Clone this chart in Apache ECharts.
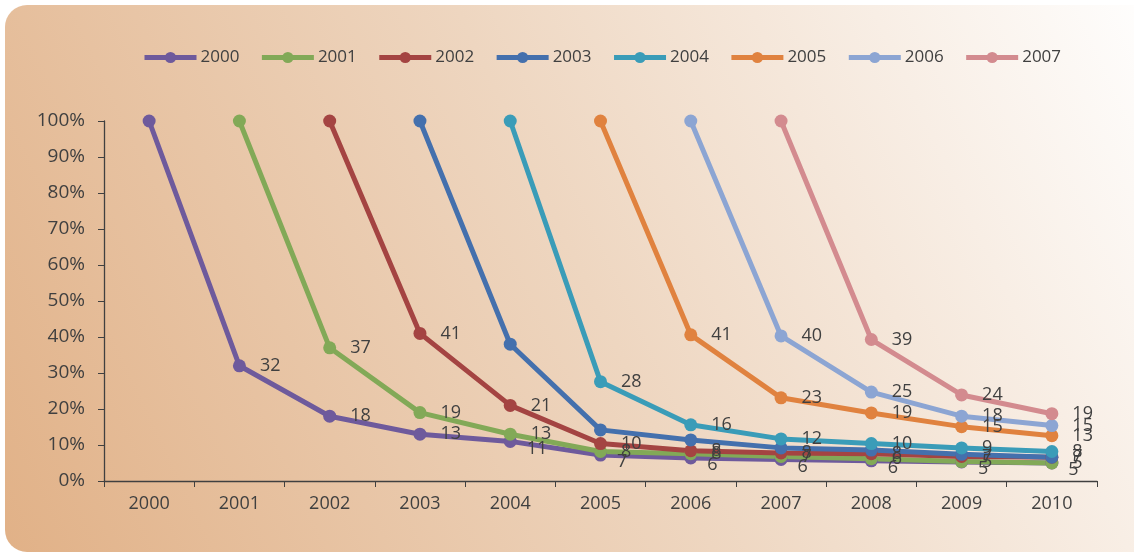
<!DOCTYPE html>
<html>
<head>
<meta charset="utf-8">
<script src="https://cdn.jsdelivr.net/npm/echarts@6/dist/echarts.min.js"></script>
<style>
  html, body { margin: 0; padding: 0; background: #ffffff; }
  #chart { width: 1134px; height: 557px; }
</style>
</head>
<body>
<div id="chart"></div>
<script>
// Calendar years on the horizontal axis
const years = ['2000', '2001', '2002', '2003', '2004', '2005', '2006', '2007', '2008', '2009', '2010'];
// One line per starting cohort
const cohorts = ['2000', '2001', '2002', '2003', '2004', '2005', '2006', '2007'];

// Share (%) of each cohort still present in each year
const c2000 = [100, 32, 18, 13, 11, 7.2, 6.4, 6.0, 5.6, 5.3, 5.0];
const c2001 = [null, 100, 37, 19, 13, 8.2, 7.6, 6.8, 6.2, 5.4, 5.0];
const c2002 = [null, null, 100, 41, 21, 10.4, 8.4, 7.8, 7.6, 6.8, 6.6];
const c2003 = [null, null, null, 100, 38, 14.2, 11.4, 9.2, 8.6, 7.4, 6.6];
const c2004 = [null, null, null, null, 100, 27.6, 15.6, 11.7, 10.4, 9.2, 8.2];
const c2005 = [null, null, null, null, null, 100, 40.6, 23.1, 18.9, 15.1, 12.6];
const c2006 = [null, null, null, null, null, null, 100, 40.3, 24.7, 18.0, 15.4];
const c2007 = [null, null, null, null, null, null, null, 100, 39.3, 23.9, 18.7];

// Y axis ticks
const yTicks = [0, 10, 20, 30, 40, 50, 60, 70, 80, 90, 100];

const cohortValues = [c2000, c2001, c2002, c2003, c2004, c2005, c2006, c2007];
const colors = ['#6e5a9c', '#82a957', '#a44442', '#4470ad', '#3a9cb8', '#e0823f', '#8ca5d3', '#d38b8f'];
// The 2003 cohort carries no value labels
const showLabels = [true, true, true, false, true, true, true, true];

const textColor = '#404040';
const fontFamily = '"Open Sans", "Noto Sans", sans-serif';

const series = cohorts.map((name, i) => {
  const vals = cohortValues[i];
  const start = vals.findIndex(v => v !== null);
  return {
    name: name,
    type: 'line',
    symbol: 'circle',
    symbolSize: 13,
    connectNulls: false,
    lineStyle: { width: 5, color: colors[i] },
    itemStyle: { color: colors[i] },
    label: {
      show: showLabels[i],
      position: 'right',
      distance: 14,
      color: textColor,
      fontSize: 18,
      fontFamily: fontFamily,
      formatter: p => String(Math.round(p.value))
    },
    emphasis: { disabled: true },
    data: vals.map((v, k) => {
      if (v === null) return null;
      if (k === start) return { value: v, label: { show: false } };
      // the lowest line's labels sit a little under their points where lines crowd
      if (i === 0 && k >= 4) return { value: v, label: { offset: [-4, 7] } };
      return v;
    })
  };
});

const chart = echarts.init(document.getElementById('chart'), null, { renderer: 'canvas' });

chart.setOption({
  animation: false,
  color: colors,
  graphic: [{
    type: 'rect',
    z: -10,
    silent: true,
    shape: { x: 5, y: 5, width: 1160, height: 547, r: 22 },
    style: {
      fill: new echarts.graphic.LinearGradient(0, 1, 1, 0, [
        { offset: 0, color: '#e1b187' },
        { offset: 0.5, color: '#eed6c0' },
        { offset: 1, color: '#ffffff' }
      ])
    }
  }],
  legend: {
    left: 137,
    top: 44,
    itemWidth: 52,
    itemHeight: 14,
    itemGap: 20,
    lineStyle: { width: 5 },
    textStyle: { color: textColor, fontSize: 17, fontFamily: fontFamily, padding: [0, 0, 0, -1] },
    data: cohorts
  },
  grid: { left: 104, right: 37, top: 121, bottom: 76 },
  xAxis: {
    type: 'category',
    data: years,
    boundaryGap: true,
    axisLine: { lineStyle: { color: textColor, width: 1.3 } },
    axisTick: { show: true, length: 6, alignWithLabel: false, lineStyle: { color: textColor } },
    axisLabel: { color: textColor, fontSize: 18, fontFamily: fontFamily, margin: 14 },
    splitLine: { show: false }
  },
  yAxis: {
    type: 'value',
    min: yTicks[0],
    max: yTicks[yTicks.length - 1],
    interval: yTicks[1] - yTicks[0],
    axisLine: { show: true, lineStyle: { color: textColor, width: 1.3 } },
    axisTick: { show: true, length: 6, lineStyle: { color: textColor } },
    axisLabel: { color: textColor, fontSize: 19, fontFamily: fontFamily, margin: 19, formatter: '{value}%' },
    splitLine: { show: false }
  },
  series: series
});
</script>
</body>
</html>
